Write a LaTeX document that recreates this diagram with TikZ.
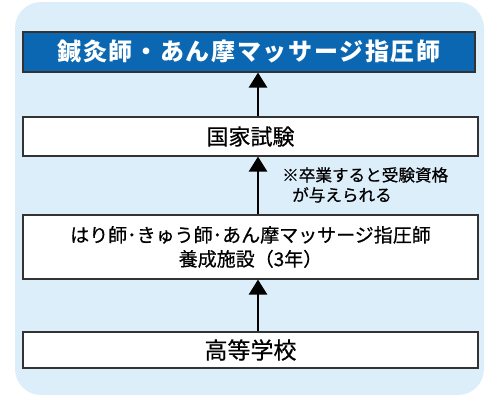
\documentclass[tikz,border=0pt]{standalone}
\usepackage{fontspec}
\setmainfont{Noto Sans CJK JP}
\usetikzlibrary{arrows.meta}
\definecolor{bgblue}{HTML}{DDEEFB}
\definecolor{titleblue}{HTML}{0B67B2}
\definecolor{edgegrey}{HTML}{333333}
\tikzset{
  box/.style={draw=edgegrey, line width=1.1pt, fill=white, inner sep=0pt, text=black},
  uparrow/.style={line width=2.6pt, -{Triangle[length=15pt,width=18pt]}},
  heavier/.style={font=#1\addfontfeature{FakeBold=0.6}},
}
\begin{document}
\begin{tikzpicture}[x=1pt,y=-1pt]
\useasboundingbox (0,0) rectangle (500,400);
\fill[bgblue, rounded corners=26pt] (15,2) rectangle (484,395);
\node[box, fill=titleblue, text=white, minimum width=452pt, minimum height=40pt,
  font=\fontsize{24}{28}\selectfont\bfseries\addfontfeature{LetterSpace=7}] (qual) at (249,52) {鍼灸師・あん摩マッサージ指圧師};
\node[box, minimum width=455pt, minimum height=39pt, heavier=\fontsize{22}{26}\selectfont] (exam) at (250.5,136.5) {国家試験};
\node[box, minimum width=455pt, minimum height=64pt, align=center, heavier=\fontsize{19}{24}\selectfont] (school) at (250.5,247) {はり師･きゅう師･あん摩マッサージ指圧師\\養成施設（3年）};
\node[box, minimum width=455pt, minimum height=36pt, heavier=\fontsize{23}{26}\selectfont] (high) at (250.5,350) {高等学校};
\coordinate (ax) at (258,0);
\draw[uparrow] (exam.north -| ax) -- (qual.south -| ax);
\draw[uparrow] (school.north -| ax) -- (exam.south -| ax);
\draw[uparrow] (high.north -| ax) -- (school.south -| ax);
\node[anchor=north west, inner sep=0pt, align=left, heavier=\fontsize{16.6}{20}\selectfont] (note) at (282,167) {※卒業すると受験資格\\\hspace*{10pt}が与えられる};
\end{tikzpicture}
\end{document}
